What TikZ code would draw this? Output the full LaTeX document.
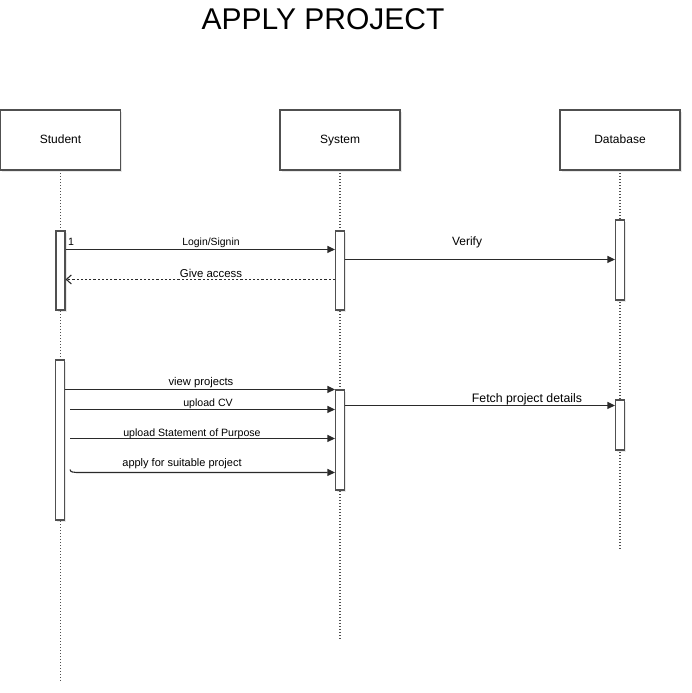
\documentclass[tikz,border=0pt]{standalone}
\usepackage{fontspec}
\setmainfont{Liberation Sans}
\usetikzlibrary{arrows.meta,shadows}
\definecolor{linec}{HTML}{2A2A2A}
\definecolor{boxc}{HTML}{505050}
\tikzset{
  actor/.style={draw=boxc,line width=1.1pt,fill=white,minimum width=120pt,minimum height=60pt,inner sep=0pt,
    font=\fontsize{12}{14}\selectfont,text height=8.6pt,text depth=2.5pt,
    drop shadow={opacity=0.18,shadow xshift=1.5pt,shadow yshift=-1.5pt}},
  actbar/.style={draw=boxc,line width=1.1pt,fill=white,minimum width=9pt,inner sep=0pt,
    drop shadow={opacity=0.18,shadow xshift=1.5pt,shadow yshift=-1.5pt}},
  lifeline/.style={draw=boxc,line width=1.2pt,dash pattern=on 1.3pt off 1.7pt},
  msg/.style={draw=linec,line width=1.1pt,-{Triangle[width=7pt,length=7.5pt]}},
  reply/.style={draw=linec,line width=1.1pt,dash pattern=on 2.2pt off 2pt,-{Straight Barb[width=9pt,length=5pt]}},
  lbl/.style={font=\fontsize{10.6}{12}\selectfont,inner sep=0pt,anchor=base}
}
\begin{document}
\begin{tikzpicture}[x=1pt,y=-1pt]
\useasboundingbox (0,0) rectangle (692,693);
\node[font=\fontsize{30}{34}\selectfont,anchor=base] (title) at (323,30) {APPLY PROJECT};
% lifelines
\coordinate (sl) at (60.5,682);
\coordinate (yl) at (340,640);
\coordinate (dl) at (620,550);
\draw[lifeline] (60.5,170) -- (sl);
\draw[lifeline] (340,170) -- (yl);
\draw[lifeline] (620,170) -- (dl);
\node[actor] (student) at (60.5,140) {Student};
\node[actor] (system) at (340,140) {System};
\node[actor] (database) at (620,140) {Database};
% activation bars
\node[actbar,minimum height=79pt] (sb1) at (60.5,270.5) {};
\node[actbar,minimum height=79pt] (yb1) at (340,270.5) {};
\node[actbar,minimum height=80pt] (db1) at (620,260) {};
\node[actbar,minimum height=160pt] (sb2) at (60,440) {};
\node[actbar,minimum height=100pt] (yb2) at (340,440) {};
\node[actbar,minimum height=50pt] (db2) at (620,425) {};
% messages
\draw[msg] ([yshift=-19pt]sb1.north east) -- ([yshift=-19pt]yb1.north west);
\node[lbl,font=\fontsize{10.4}{12}\selectfont] (l1) at (211,245) {Login/Signin};
\node[lbl] (n1) at (71,245) {1};
\draw[reply] ([yshift=-49pt]yb1.north west) -- ([yshift=-49pt]sb1.north east);
\node[lbl,font=\fontsize{11.4}{13}\selectfont] (l2) at (211,277) {Give access};
\draw[msg] ([yshift=-40pt]db1.north west -| yb1.east) -- ([yshift=-40pt]db1.north west);
\node[lbl,font=\fontsize{12}{14}\selectfont] (l3) at (467,245) {Verify};
\draw[msg] ([yshift=-30pt]sb2.north east) -- (yb2.north west);
\node[lbl,font=\fontsize{11.2}{13}\selectfont] (l4) at (201,385) {view projects};
\draw[msg] ([xshift=5pt,yshift=-50pt]sb2.north east) -- ([yshift=-20pt]yb2.north west);
\node[lbl] (l5) at (208,406) {upload CV};
\draw[msg] ([xshift=5pt,yshift=-79pt]sb2.north east) -- ([yshift=-49pt]yb2.north west);
\node[lbl] (l6) at (192,436) {upload Statement of Purpose};
\coordinate (ap) at ([xshift=5pt,yshift=-110pt]sb2.north east);
\draw[msg] (ap) to[out=-90,in=180] ([xshift=6pt,yshift=-3pt]ap) -- ([yshift=-83pt]yb2.north west);
\node[lbl,font=\fontsize{11}{13}\selectfont] (l7) at (182,466) {apply for suitable project};
\draw[msg] ([yshift=-6pt]db2.north west -| yb2.east) -- ([yshift=-6pt]db2.north west);
\node[lbl,font=\fontsize{12.3}{14}\selectfont] (l8) at (527,402) {Fetch project details};
\end{tikzpicture}
\end{document}
